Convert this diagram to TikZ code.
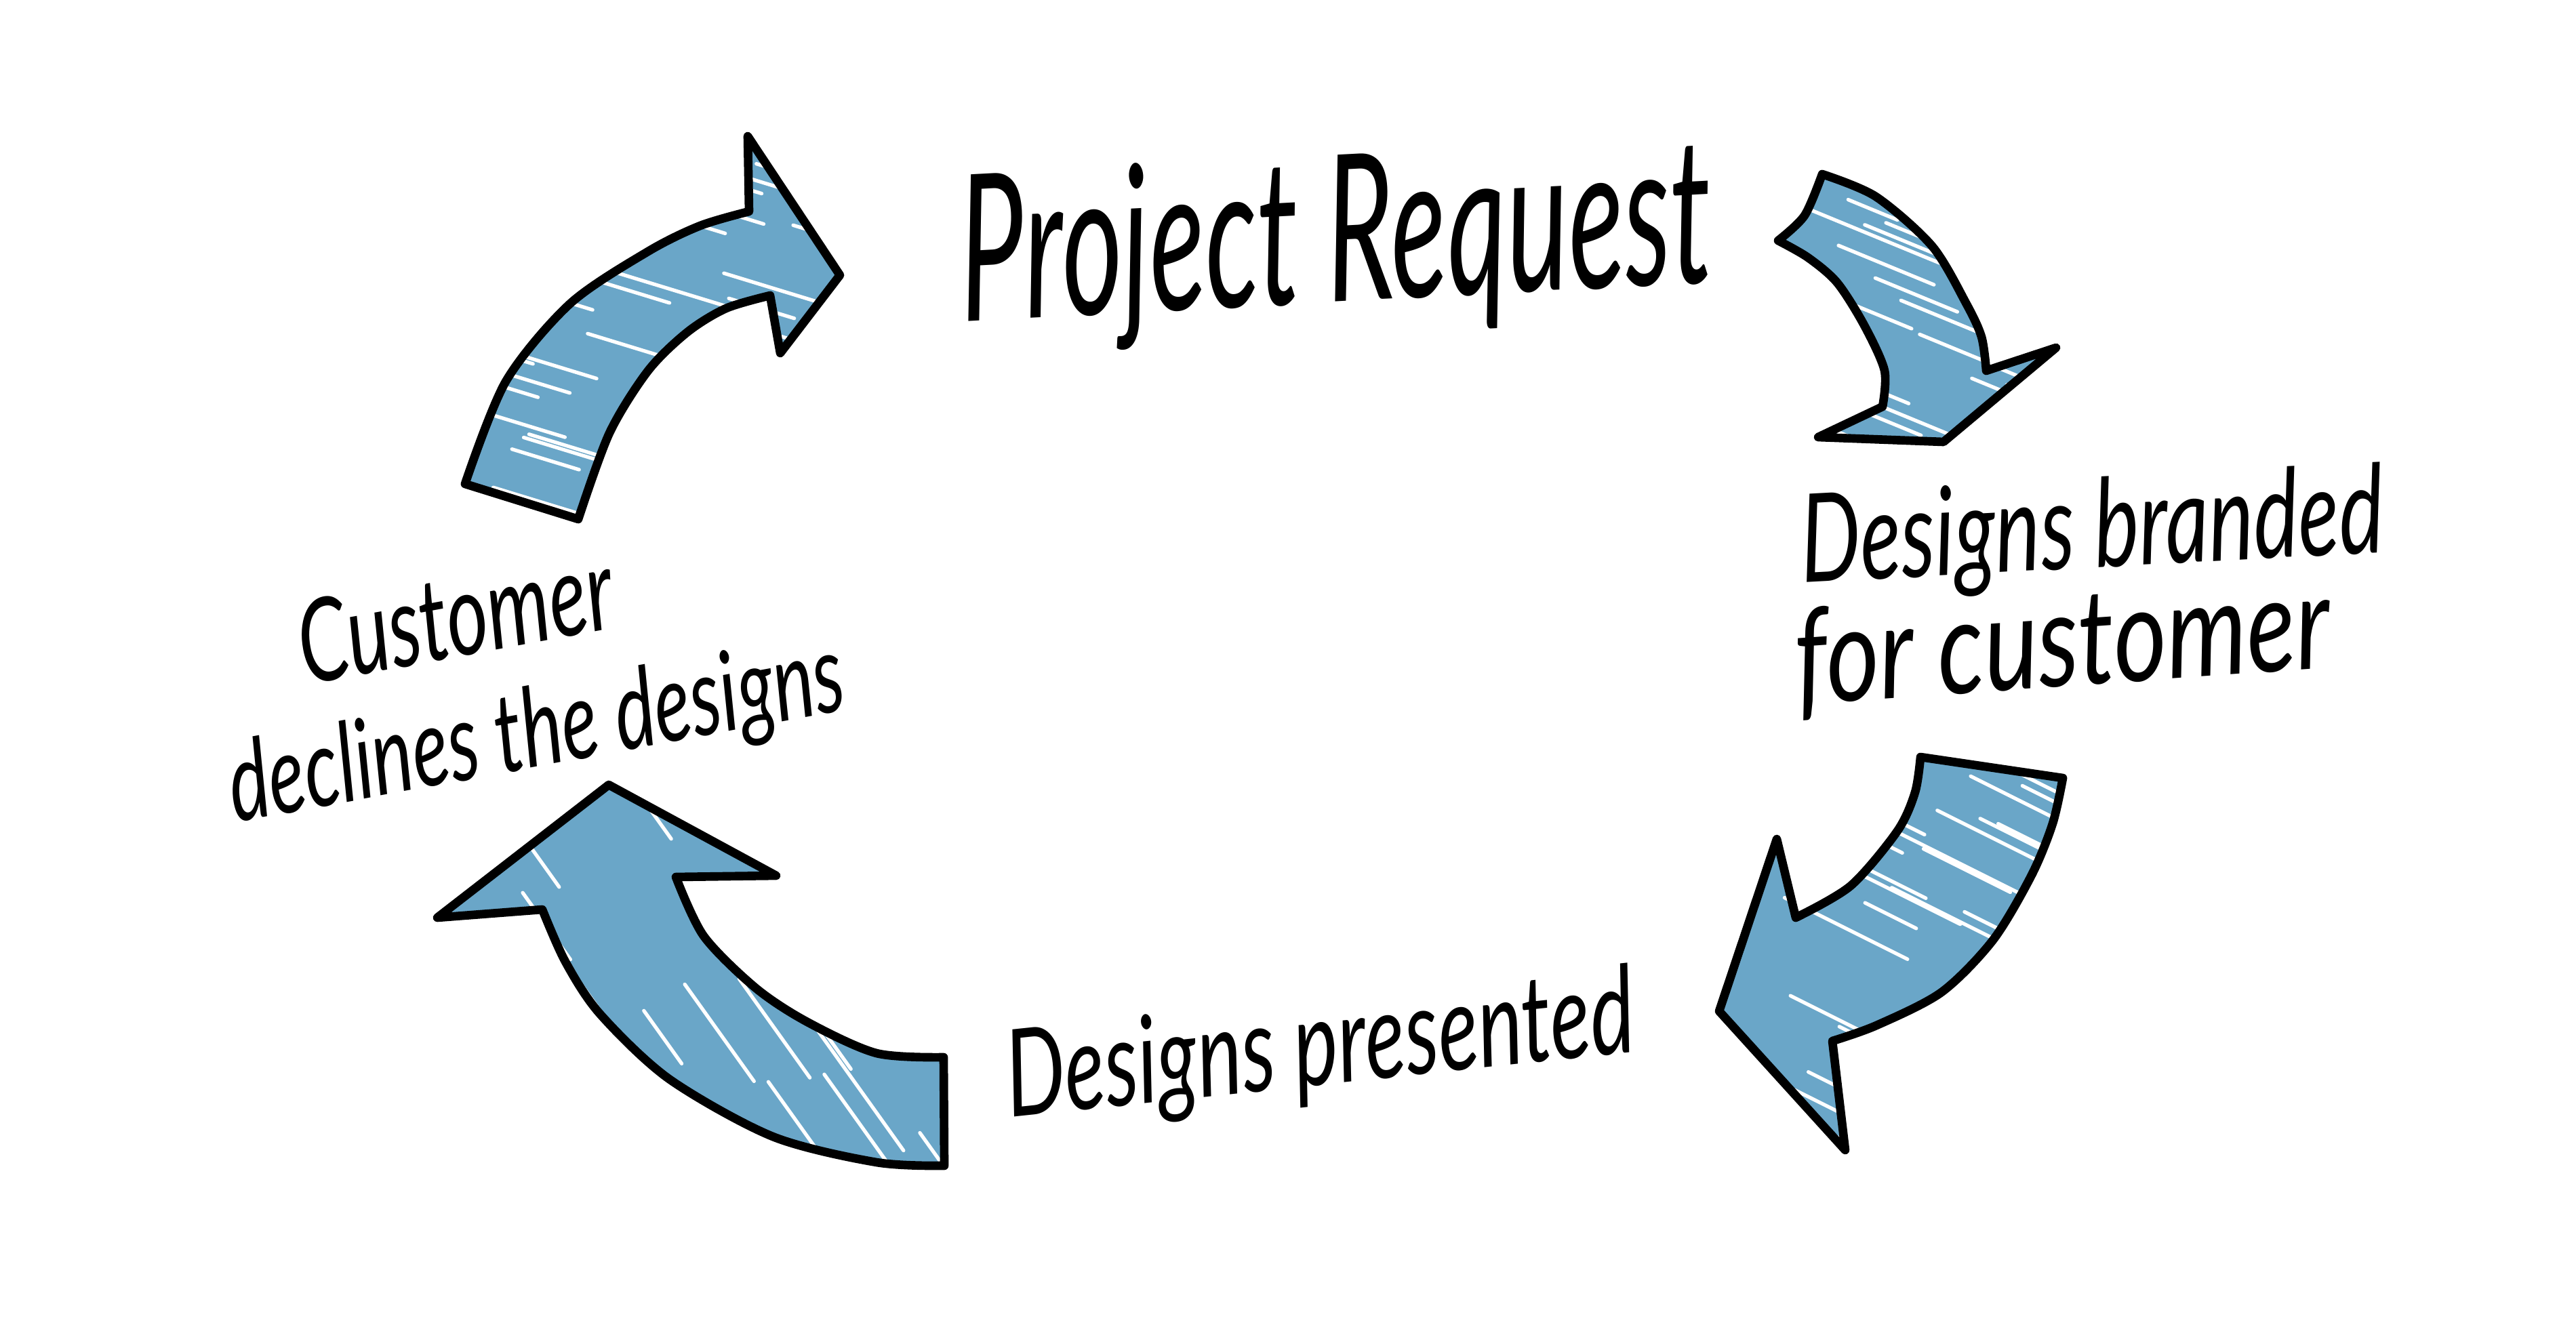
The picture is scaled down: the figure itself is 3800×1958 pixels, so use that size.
\documentclass[tikz,border=0pt]{standalone}
\usepackage{fontspec}
\setmainfont{Lato}
\usepackage{graphicx}
\definecolor{arrowblue}{HTML}{6AA6C8}
\tikzset{
  arrowfill/.style={fill=arrowblue},
  outline/.style={draw=black, line width=3.6pt, line join=round, line cap=round},
  streak/.style={draw=white, line width=1.5pt, line cap=round},
  hand/.style={inner sep=0pt, font=\itshape, text=black}
}
\newcommand\hw[3][1.45]{\resizebox{#2}{!}{\scalebox{1}[#1]{#3}}}
\newcommand\streaks[7]{%
  \foreach \k in {1,...,#7}{%
    \pgfmathsetmacro\sx{#1+rnd*#3}%
    \pgfmathsetmacro\sy{#2+rnd*#4}%
    \pgfmathsetmacro\sl{0.4+rnd*0.9}%
    \draw[streak] (\sx,\sy) -- ++({#5*\sl},{#6*\sl});
  }}
\def\arrowA{plot[smooth] coordinates {(686,714) (746,563) (841,448) (956,371) (1033,333) (1105,312)} -- (1103,201) -- (1239,406) -- (1151,521) -- (1136,436) -- plot[smooth] coordinates {(1136,436) (1071,455) (1014,490) (956,547) (899,639) (853,766)} -- cycle}
\def\arrowB{plot[smooth] coordinates {(2688,257) (2767,290) (2850,363) (2900,447) (2923,497) (2930,547)} -- (3033,513) -- (2867,652) -- (2682,645) -- (2777,600) -- plot[smooth] coordinates {(2777,600) (2780,547) (2750,480) (2710,417) (2667,380) (2623,355)} -- plot[smooth] coordinates {(2623,355) (2662,318) (2688,257)} -- cycle}
\def\arrowC{(2833,1117) -- (3043,1148) -- plot[smooth] coordinates {(3043,1148) (3028,1215) (2997,1291) (2940,1387) (2864,1464) (2768,1513) (2703,1536)} -- (2722,1697) -- (2536,1492) -- (2621,1238) -- (2649,1354) -- plot[smooth] coordinates {(2649,1354) (2730,1307) (2799,1226) (2825,1169) (2833,1117)} -- cycle}
\def\arrowD{(898,1158) -- (1145,1292) -- (997,1294) -- plot[smooth] coordinates {(997,1294) (1038,1381) (1115,1458) (1191,1508) (1293,1554) (1392,1560)} -- (1393,1720) -- plot[smooth] coordinates {(1393,1720) (1293,1715) (1140,1677) (987,1592) (885,1496) (834,1419) (800,1342)} -- (645,1354) -- cycle}
\begin{document}
\begin{tikzpicture}[x=0.01cm,y=-0.01cm]
\fill[white] (0,0) rectangle (3800,1958);
\useasboundingbox (0,0) rectangle (3800,1958);
\pgfmathsetseed{7}
% arrow A: top left
\fill[arrowfill] \arrowA;
\begin{scope}\clip \arrowA; \streaks{620}{200}{620}{570}{180}{55}{40}\end{scope}
\draw[outline] \arrowA;
% arrow B: top right
\fill[arrowfill] \arrowB;
\begin{scope}\clip \arrowB; \streaks{2560}{250}{480}{400}{170}{70}{30}\end{scope}
\draw[outline] \arrowB;
% arrow C: right
\fill[arrowfill] \arrowC;
\begin{scope}\clip \arrowC; \streaks{2480}{1110}{560}{590}{170}{85}{36}\end{scope}
\draw[outline] \arrowC;
% arrow D: bottom left
\fill[arrowfill] \arrowD;
\begin{scope}\clip \arrowD; \streaks{600}{1100}{780}{620}{100}{140}{26}\end{scope}
\draw[outline] \arrowD;
% labels
\node[hand, anchor=base, rotate=3] (title) at (1975,445) {\hw[1.75]{11.1cm}{Project Request}};
\node[hand, anchor=base west, rotate=3] (brand1) at (2659,860) {\hw{8.6cm}{Designs branded}};
\node[hand, anchor=base west, rotate=4] (brand2) at (2652,1040) {\hw[1.3]{7.9cm}{for customer}};
\node[hand, anchor=base, rotate=10.5] (decline) at (800,1130) {\rlap{\hspace{1.39cm}\raisebox{1.81cm}{\hw{4.7cm}{Customer}}}\hw{9.2cm}{declines the designs}};
\node[hand, anchor=base, rotate=6] (present) at (1953,1600) {\hw{9.3cm}{Designs presented}};
\end{tikzpicture}
\end{document}
